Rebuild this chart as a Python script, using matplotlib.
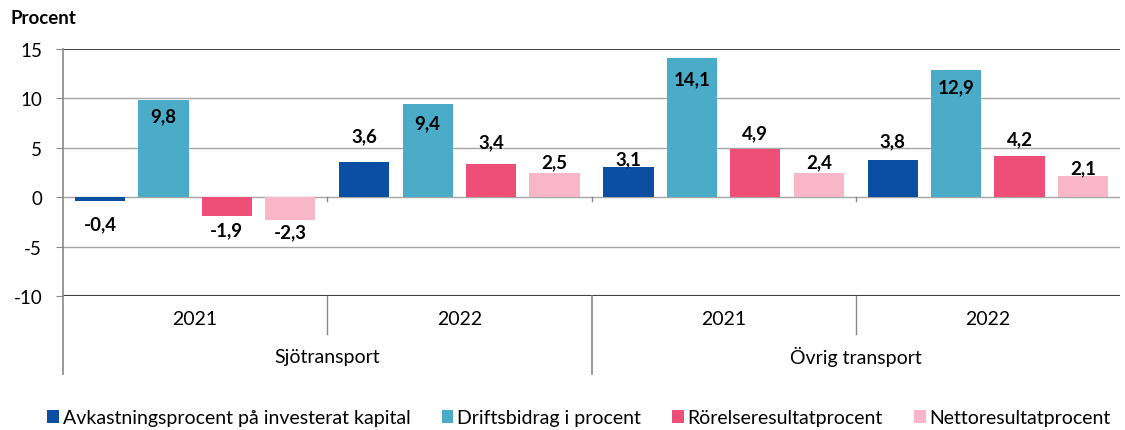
import numpy as np
import matplotlib
matplotlib.use('Agg')
import matplotlib.pyplot as plt

plt.rcParams['font.family'] = ['Lato', 'DejaVu Sans']

# Data
years = ['2021', '2022', '2021', '2022']
sectors = ['Sjötransport', 'Övrig transport']
series_names = ['Avkastningsprocent på investerat kapital', 'Driftsbidrag i procent',
                'Rörelseresultatprocent', 'Nettoresultatprocent']
avkastning = [-0.4, 3.6, 3.1, 3.8]
driftsbidrag = [9.8, 9.4, 14.1, 12.9]
rorelse = [-1.9, 3.4, 4.9, 4.2]
netto = [-2.3, 2.5, 2.4, 2.1]
colors = ['#0B4EA2', '#4BACC9', '#EE4F78', '#F8B6C8']

# label placement as in the source (pixels, + = up from bar end)
label_shift = [[-23, 26, 8, 19],
               [-15, -18, -21, -17],
               [-14, 22, 16, 17],
               [-12, 11, 12, 9]]

series = [avkastning, driftsbidrag, rorelse, netto]

fig = plt.figure(figsize=(11.25, 4.31), dpi=100)
ax = fig.add_axes([63 / 1125, 1 - 297 / 431, (1120 - 63) / 1125, 247 / 431])

x = np.arange(len(years))
step = 0.24
width = 0.19
for k, (vals, col, name) in enumerate(zip(series, colors, series_names)):
    pos = x + 0.5 + (k - 1.5) * step
    ax.bar(pos, vals, width=width, color=col, label=name, zorder=3)
    for p, v, sh in zip(pos, vals, label_shift[k]):
        lab = f'{v:.1f}'.replace('.', ',')
        ax.annotate(lab, (p, v), xytext=(0, sh * 0.72), textcoords='offset points',
                    ha='center', va='center', fontsize=13.5, fontweight='bold', zorder=4)

ax.set_xlim(0, 4)
ax.set_ylim(-10, 15)
ax.set_yticks([-10, -5, 0, 5, 10, 15])
ax.set_yticklabels(['-10', '-5', '0', '5', '10', '15'], fontsize=13.5)
ax.tick_params(axis='y', direction='out', length=5, color='#888888', pad=10)
ax.set_xticks([])

for y in [-5, 0, 5, 10]:
    ax.axhline(y, color='#A6A6A6', linewidth=1, zorder=1)
ax.axhline(15, color='#202020', linewidth=1.2, zorder=1)
ax.axhline(-10, color='#404040', linewidth=1.5, zorder=1)

for s in ['top', 'right', 'bottom']:
    ax.spines[s].set_visible(False)
ax.spines['left'].set_color('#888888')
ax.spines['left'].set_linewidth(1.2)

# small ticks on the zero line at group boundaries
trans0 = ax.get_xaxis_transform()
for b in [1, 2, 3]:
    ax.plot([b, b], [0, -0.4], color='#888888', linewidth=1, zorder=2)

# multi-level category axis
for b in [1, 3]:
    ax.plot([b, b], [0, -0.154], transform=trans0, color='#888888', linewidth=1, clip_on=False)
for b in [0, 2]:
    ax.plot([b, b], [0, -0.316], transform=trans0, color='#888888', linewidth=1.2, clip_on=False)
for i, yr in enumerate(years):
    ax.text(i + 0.5, -0.093, yr, transform=trans0, ha='center', va='center', fontsize=14)
for j, sec in enumerate(sectors):
    ax.text(2 * j + 1, -0.243, sec, transform=trans0, ha='center', va='center', fontsize=14)

fig.text(10 / 1125, 1 - 18 / 431, 'Procent', ha='left', va='center', fontsize=13.5, fontweight='bold')

fig.legend(loc='center', bbox_to_anchor=(579 / 1125, 1 - 419 / 431), ncol=4, frameon=False,
           fontsize=14, handlelength=0.6, handleheight=0.6, handletextpad=0.2,
           columnspacing=1.6)

fig.savefig('out.png', dpi=100)
